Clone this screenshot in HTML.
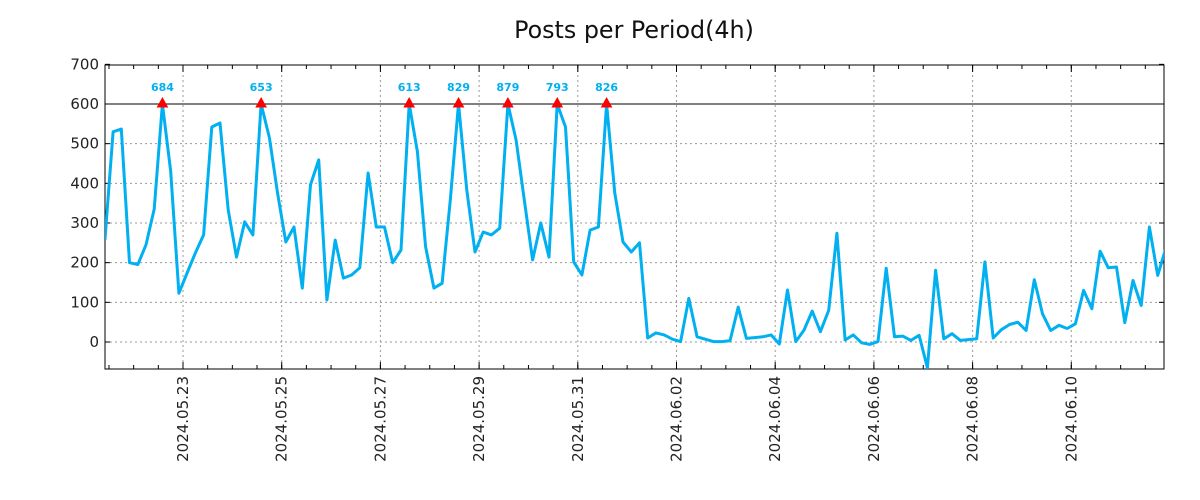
<!DOCTYPE html>
<html><head><meta charset="utf-8"><style>
body{margin:0;background:#fff}
svg{display:block;font-family:"DejaVu Sans","Liberation Sans",sans-serif}
</style></head><body>
<svg id="chart" width="1200" height="500" viewBox="0 0 1200 500">
<text x="634" y="38" font-size="23.8" text-anchor="middle" fill="#111">Posts per Period(4h)</text>
<g id="grid"></g>
<g id="axes"></g>
<g id="series"></g>
<g id="marks"></g>
</svg>
<script>
const values = [257,530,537,200,195,245,335,684,430,123,174,224,270,542,552,333,214,303,270,653,515,375,252,290,136,396,459,106,257,161,169,187,426,290,290,200,232,613,480,240,136,148,358,829,383,227,277,270,287,879,509,358,207,300,214,793,542,202,169,282,290,826,375,252,227,250,10,23,18,7,1,110,13,7,1,1,3,88,9,11,13,18,-5,131,1,30,78,26,80,274,5,18,-2,-6,1,186,13,15,4,17,-65,181,8,21,4,6,8,202,10,31,44,50,29,157,71,29,42,34,46,130,84,229,187,189,49,155,92,290,168,237];
const yTicks = [0,100,200,300,400,500,600,700];
const xTickLabels = ["2024.05.23","2024.05.25","2024.05.27","2024.05.29","2024.05.31","2024.06.02","2024.06.04","2024.06.06","2024.06.08","2024.06.10"];
const threshold = 600;
const startOffsetDays = -38/24;
const stepDays = 4/24;

const L=105,R=1164,T=65,B=369;
const NS='http://www.w3.org/2000/svg';
function X(d){return 183+49.35*d;}
function Y(v){return 342-v*(238/600);}
function mk(tag,attrs,parent){const e=document.createElementNS(NS,tag);for(const k in attrs)e.setAttribute(k,attrs[k]);parent.appendChild(e);return e;}
const grid=document.getElementById('grid'),axes=document.getElementById('axes'),series=document.getElementById('series'),marks=document.getElementById('marks');

yTicks.forEach(v=>{
  const y=Y(v);
  if(y>T+1&&y<B-1){const g=mk('line',{x1:L,x2:R,y1:y,y2:y,stroke:'#999','stroke-dasharray':'2,3','stroke-width':1},grid);
  
  }
  mk('line',{x1:L,x2:L+5,y1:y,y2:y,stroke:'#000'},axes);
  mk('line',{x1:R-5,x2:R,y1:y,y2:y,stroke:'#000'},axes);
  const t=mk('text',{x:99,y:y+5,'font-size':15,'text-anchor':'end',fill:'#222'},axes);
  t.textContent=v;
  
  
});
for(let d=-1.5;d<=19.5;d+=0.5){const x=X(d);if(x<L||x>R)continue;
  mk('line',{x1:x,x2:x,y1:B,y2:B-4,stroke:'#000'},axes);
  mk('line',{x1:x,x2:x,y1:T,y2:T+4,stroke:'#000'},axes);}
xTickLabels.forEach((lab,i)=>{
  const x=X(i*2);
  const g=mk('line',{x1:x,x2:x,y1:T,y2:B,stroke:'#999','stroke-dasharray':'2,3'},grid);
  
  
  mk('line',{x1:x,x2:x,y1:B,y2:B-7,stroke:'#000'},axes);
  mk('line',{x1:x,x2:x,y1:T,y2:T+7,stroke:'#000'},axes);
  const t=mk('text',{x:0,y:0,'font-size':15,'text-anchor':'end',fill:'#222',transform:`translate(${x+5},376) rotate(-90)`},axes);
  t.textContent=lab;
  
  
});
const th=mk('line',{x1:L,x2:R,y1:Y(threshold),y2:Y(threshold),stroke:'#000','stroke-width':1},axes);


const defs=mk('defs',{},document.getElementById('chart'));
const cp=mk('clipPath',{id:'pc'},defs);mk('rect',{x:L,y:T,width:R-L,height:B-T},cp);
const pts=values.map((v,i)=>[X(startOffsetDays+i*stepDays),Y(Math.min(v,threshold))]);
const line=mk('polyline',{points:pts.map(p=>p[0].toFixed(1)+','+p[1].toFixed(1)).join(' '),fill:'none',stroke:'#00b0f0','stroke-width':3,'stroke-linejoin':'round','clip-path':'url(#pc)'},series);


const fr=mk('rect',{x:L,y:T,width:R-L,height:B-T,fill:'none',stroke:'#000','stroke-width':1},axes);


values.forEach((v,i)=>{
  if(v<threshold)return;
  const x=X(startOffsetDays+i*stepDays),y=Y(threshold);
  const tri=mk('polygon',{points:`${x-5},${y+3} ${x+5},${y+3} ${x},${y-6}`,fill:'#f00',stroke:'#f00','stroke-width':1},marks);
  
  
  const t=mk('text',{x:x,y:91,'font-size':11,'font-weight':'bold','text-anchor':'middle',fill:'#00b0f0'},marks);
  t.textContent=v;
  
  
});
</script>
</body></html>
